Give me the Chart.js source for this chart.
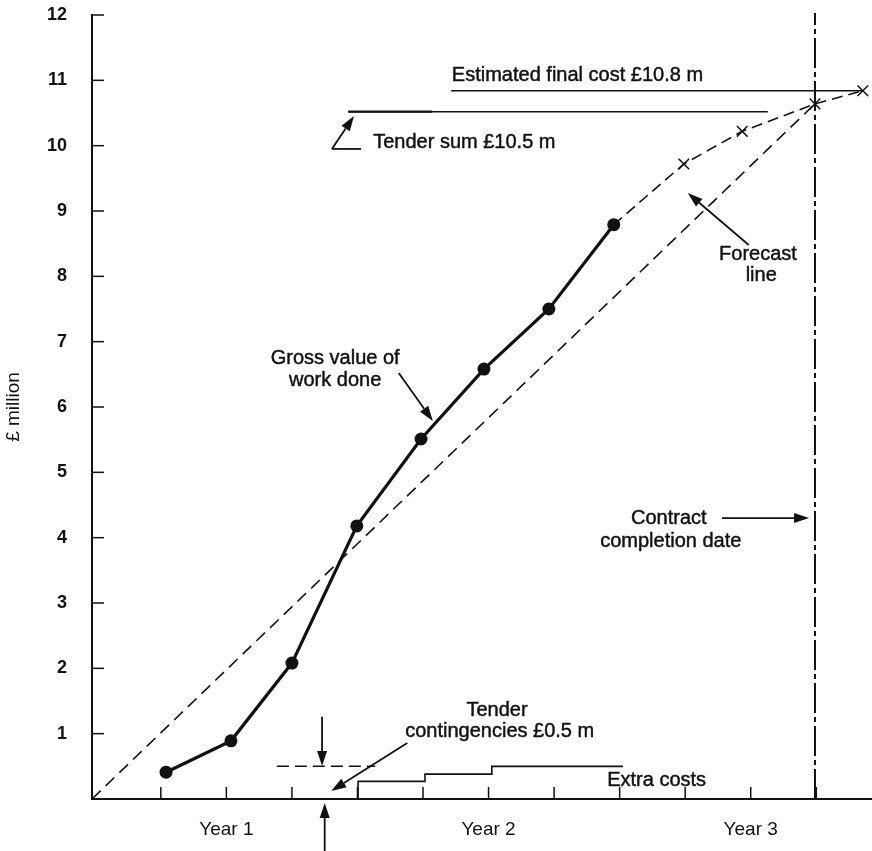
<!DOCTYPE html>
<html><head><meta charset="utf-8">
<script src="https://cdn.jsdelivr.net/npm/chart.js@4.4.1/dist/chart.umd.min.js"></script>
<style>html,body{margin:0;padding:0;background:#fff;overflow:hidden}#wrap{width:872px;height:851px;position:relative;overflow:hidden}canvas{display:block}</style>
</head><body><div id="wrap"><canvas id="c"></canvas></div>
<script>
// ---- data (x in quarters from contract start, y in £ million) ----
const yTickValues = [1,2,3,4,5,6,7,8,9,10,11,12];
const quarterTicks = [1,2,3,4,5,6,7,8,9,10,11];
const yearLabels = ['Year 1','Year 2','Year 3'];
const yearTickPos = [2,6,10];

const grossX = [1.08, 2.07, 3.0, 3.99, 4.97, 5.93, 6.92, 7.91];
const grossY = [0.41, 0.89, 2.08, 4.18, 5.51, 6.58, 7.50, 8.79];

const forecastX = [7.91, 8.98, 9.87, 10.98, 11.71];
const forecastY = [8.79, 9.72, 10.22, 10.64, 10.84];

const tenderLineX = [-0.05, 10.98];
const tenderLineY = [0, 10.64];

const tenderSum = 10.52;
const tenderSumRange = [3.86, 10.26];
const tenderSumBold = [3.86, 5.14];

const finalCost = 10.84;
const finalCostRange = [5.43, 11.71];

const contingency = 0.5;
const contingencyRange = [2.77, 4.27];

const extraX = [4.01, 5.03, 6.05, 8.05];
const extraY = [0, 0.27, 0.38, 0.5];

const completionX = 10.98;
const completionRange = [0, 12.03];

// ---- helpers ----
const zip = (xs, ys) => xs.map((x, i) => ({x, y: ys[i]}));
const FONT = "'Liberation Sans', Arial, Helvetica, sans-serif";
const INK = '#111';

const annotations = {
  id: 'annotations',
  afterDatasetsDraw(chart) {
    const {ctx, scales: {x: xs, y: ys}} = chart;
    const X = v => xs.getPixelForValue(v);
    const Y = v => ys.getPixelForValue(v);
    ctx.save();
    ctx.fillStyle = INK; ctx.strokeStyle = INK;
    // texts
    ctx.font = '20px ' + FONT;
    ctx.textBaseline = 'middle';
    ctx.lineWidth = 0.45;
    const txt = (s, x, y, align) => {
      ctx.textAlign = align;
      ctx.fillText(s, X(x), Y(y));
      ctx.strokeText(s, X(x), Y(y));
    };
    txt('Estimated final cost £10.8 m', 5.44, 11.07, 'left');
    txt('Tender sum £10.5 m', 4.24, 10.056, 'left');
    txt('Forecast', 10.11, 8.34, 'center');
    txt('line', 10.16, 8.02, 'center');
    txt('Gross value of', 3.66, 6.735, 'center');
    txt('work done', 3.66, 6.413, 'center');
    txt('Contract', 8.75, 4.30, 'center');
    txt('completion date', 8.78, 3.949, 'center');
    txt('Tender', 6.13, 1.362, 'center');
    txt('contingencies £0.5 m', 6.17, 1.026, 'center');
    txt('Extra costs', 7.81, 0.291, 'left');

    // arrows
    const arrow = (x1, y1, x2, y2) => {
      const px1 = X(x1), py1 = Y(y1), px2 = X(x2), py2 = Y(y2);
      const a = Math.atan2(py2 - py1, px2 - px1);
      const L = 15, W = 5;
      const bx = px2 - L * Math.cos(a), by = py2 - L * Math.sin(a);
      ctx.lineWidth = 1.8;
      ctx.beginPath(); ctx.moveTo(px1, py1); ctx.lineTo(bx, by); ctx.stroke();
      ctx.beginPath();
      ctx.moveTo(px2, py2);
      ctx.lineTo(bx + W * Math.sin(a), by - W * Math.cos(a));
      ctx.lineTo(bx - W * Math.sin(a), by + W * Math.cos(a));
      ctx.closePath(); ctx.fill();
    };
    arrow(3.46, 1.26, 3.46, 0.505);
    arrow(3.50, -0.80, 3.50, -0.06);
    arrow(4.76, 0.857, 3.60, 0.122);
    arrow(4.63, 6.52, 5.15, 5.786);
    arrow(9.97, 8.48, 9.04, 9.275);
    arrow(3.61, 9.95, 3.947, 10.454);
    arrow(9.56, 4.30, 10.89, 4.30);
    ctx.lineWidth = 1.8;
    ctx.beginPath(); ctx.moveTo(X(3.61), Y(9.95)); ctx.lineTo(X(4.054), Y(9.95)); ctx.stroke();

    // inward tick marks
    ctx.lineWidth = 1.5;
    ys.ticks.forEach(t => {
      const py = Y(t.value);
      ctx.beginPath(); ctx.moveTo(xs.left, py); ctx.lineTo(xs.left + 12, py); ctx.stroke();
    });
    xs.ticks.forEach(t => {
      const px = X(t.value);
      ctx.beginPath(); ctx.moveTo(px, ys.bottom); ctx.lineTo(px, ys.bottom - 12); ctx.stroke();
    });
    ctx.restore();
  }
};

const lineDS = (data, opts) => Object.assign({
  data, borderColor: INK, backgroundColor: INK, pointRadius: 0, borderWidth: 1.5,
  showLine: true, fill: false, tension: 0, clip: false
}, opts);

new Chart(document.getElementById('c'), {
  type: 'scatter',
  data: {
    datasets: [
      lineDS(zip(tenderLineX, tenderLineY), {borderDash: [12, 7], borderWidth: 1.6}),
      lineDS(zip(forecastX, forecastY), {borderDash: [11, 6], borderWidth: 1.6,
        pointStyle: 'crossRot', pointRadius: [0, 7.5, 7.5, 7.5, 7.5], pointBorderWidth: 1.5}),
      lineDS(zip(grossX, grossY), {borderWidth: 3.2, pointRadius: 6.5, pointBorderWidth: 0}),
      lineDS(zip(tenderSumRange, [tenderSum, tenderSum]), {borderWidth: 1.5}),
      lineDS(zip(tenderSumBold, [tenderSum, tenderSum]), {borderWidth: 2.2}),
      lineDS(zip(finalCostRange, [finalCost, finalCost]), {borderWidth: 1.6}),
      lineDS(zip(contingencyRange, [contingency, contingency]), {borderDash: [12, 6], borderWidth: 1.5}),
      lineDS(zip(extraX, extraY), {stepped: 'after', borderWidth: 1.6}),
      lineDS(zip([completionX, completionX], completionRange), {borderDash: [30, 4, 5, 4], borderWidth: 2})
    ]
  },
  options: {
    responsive: true, maintainAspectRatio: false, animation: false,
    layout: {autoPadding: false, padding: {top: 15, right: 0, left: 0, bottom: 0}},
    plugins: {legend: {display: false}, tooltip: {enabled: false}},
    scales: {
      x: {
        type: 'linear', min: -0.05, max: 11.85,
        afterBuildTicks: s => { s.ticks = quarterTicks.map(v => ({value: v})); },
        afterFit: s => { s.height = 52; s.paddingLeft = 0; s.paddingRight = 0; },
        grid: {display: false, drawTicks: false},
        border: {display: true, color: INK, width: 2},
        ticks: {
          autoSkip: false, maxRotation: 0, padding: 19, color: INK,
          font: {family: FONT, size: 19},
          callback: v => { const i = yearTickPos.indexOf(v); return i >= 0 ? yearLabels[i] : ''; }
        }
      },
      y: {
        type: 'linear', min: 0, max: 12,
        afterBuildTicks: s => { s.ticks = yTickValues.map(v => ({value: v})); },
        afterFit: s => { s.width = 92; s.paddingTop = 0; s.paddingBottom = 0; },
        grid: {display: false, drawTicks: false},
        border: {display: true, color: INK, width: 2},
        ticks: {padding: 25, color: INK, font: {family: FONT, size: 18, weight: 'bold'}},
        title: {display: true, text: '£ million', color: INK, padding: {top: 2, bottom: 0},
          font: {family: FONT, size: 19}}
      }
    }
  },
  plugins: [annotations]
});
</script></body></html>
